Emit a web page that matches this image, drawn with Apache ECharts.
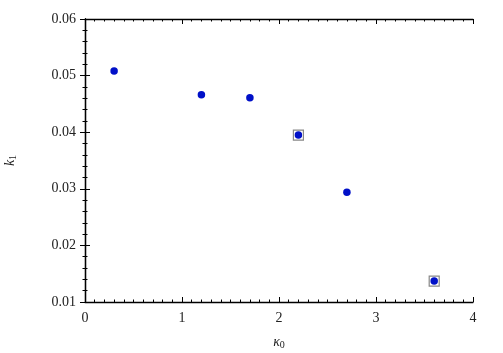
<!DOCTYPE html>
<html><head><meta charset="utf-8">
<script src="https://cdn.jsdelivr.net/npm/echarts@6/dist/echarts.min.js"></script>
<style>html,body{margin:0;padding:0;background:#fff}#c{width:503px;height:353px}</style>
</head><body><div id="c"></div>
<script>
const kappa0 = [0.3, 1.2, 1.7, 2.2, 2.7, 3.6];
const k1 = [0.0508, 0.0466, 0.0461, 0.0395, 0.0294, 0.0137];
const boxed = [3, 5];
const xTicks = [0, 1, 2, 3, 4];
const yTicks = [0.01, 0.02, 0.03, 0.04, 0.05, 0.06];

const pts = kappa0.map((x, i) => [x, k1[i]]);
const boxPts = boxed.map(i => pts[i]);
const font = "'Liberation Serif', 'Times New Roman', serif";
const lab = {color: '#222', fontFamily: font, fontSize: 14};
const line = {show: true, lineStyle: {color: '#000', width: 1.3}};
const tick = {show: true, inside: true, length: 5, lineStyle: {color: '#000'}};
const minor = (n) => ({show: true, splitNumber: n, length: 2.5, lineStyle: {color: '#000'}});

const chart = echarts.init(document.getElementById('c'));
chart.setOption({
  animation: false,
  grid: {left: 85, right: 30, top: 19, bottom: 51, show: false, containLabel: false, outerBoundsMode: 'none'},
  xAxis: [
    {type: 'value', min: xTicks[0], max: xTicks[xTicks.length - 1], interval: 1, position: 'bottom',
     axisLine: line, axisTick: tick, minorTick: minor(10), splitLine: {show: false},
     axisLabel: Object.assign({margin: 9, formatter: v => String(v)}, lab),
     name: '{i|κ}{s|0}', nameLocation: 'middle', nameGap: 32,
     nameTextStyle: {rich: {i: {fontFamily: font, fontSize: 14, fontStyle: 'italic', color: '#222'},
                            s: {fontFamily: font, fontSize: 10, color: '#222', verticalAlign: 'bottom', padding: [6, 0, 0, 0]}}}},
    {type: 'value', min: xTicks[0], max: xTicks[xTicks.length - 1], interval: 1, position: 'top',
     axisLine: line, axisTick: tick, minorTick: minor(10), splitLine: {show: false}, axisLabel: {show: false}}
  ],
  yAxis: [
    {type: 'value', min: yTicks[0], max: yTicks[yTicks.length - 1], interval: 0.01, position: 'left',
     axisLine: line, axisTick: tick, minorTick: minor(5), splitLine: {show: false},
     axisLabel: Object.assign({margin: 9, formatter: v => v.toFixed(2)}, lab),
     name: '{i|k}{s|1}', nameLocation: 'middle', nameGap: 67, nameRotate: 90,
     nameTextStyle: {rich: {i: {fontFamily: font, fontSize: 14, fontStyle: 'italic', color: '#222'},
                            s: {fontFamily: font, fontSize: 10, color: '#222', verticalAlign: 'bottom', padding: [6, 0, 0, 0]}}}},
    {type: 'value', min: yTicks[0], max: yTicks[yTicks.length - 1], interval: 0.01, position: 'right',
     axisLine: line, axisTick: tick, minorTick: minor(5), splitLine: {show: false}, axisLabel: {show: false}}
  ],
  series: [
    {type: 'scatter', data: boxPts, symbol: 'rect', symbolSize: 10, z: 2,
     itemStyle: {color: '#fff', borderColor: '#888', borderWidth: 1.2, opacity: 1}},
    {type: 'scatter', data: pts, symbol: 'circle', symbolSize: 7.5, z: 3,
     itemStyle: {color: '#0010c8', opacity: 1}}
  ]
});
</script></body></html>
